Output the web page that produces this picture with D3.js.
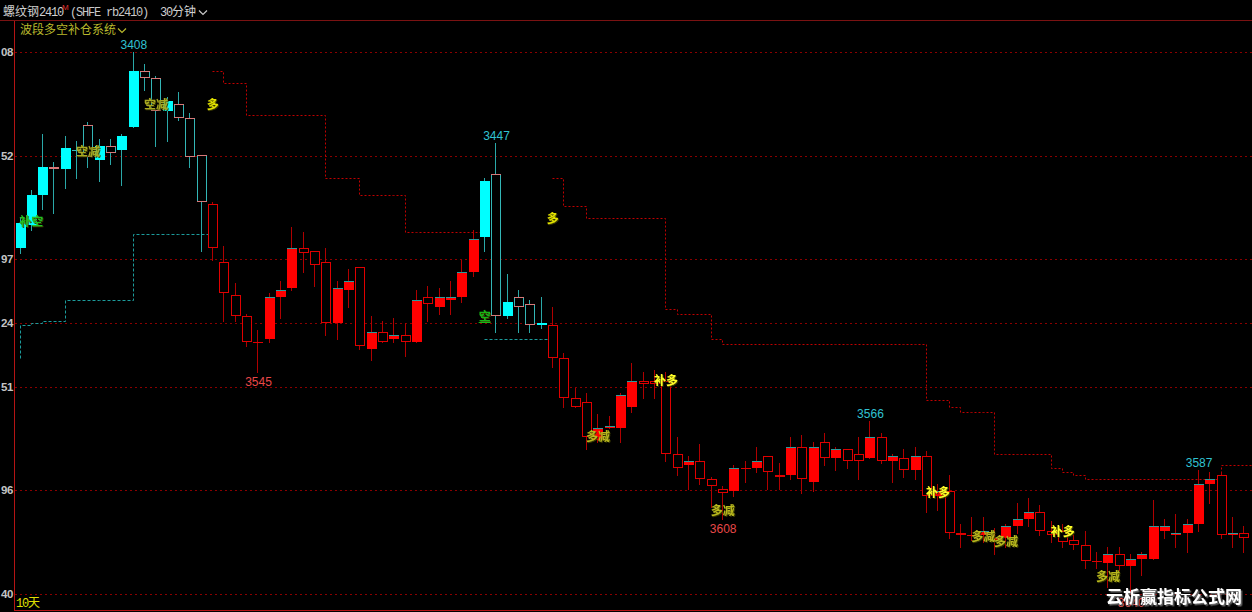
<!DOCTYPE html>
<html><head><meta charset="utf-8">
<script src="https://cdn.jsdelivr.net/npm/d3@7"></script>
<style>
html,body{margin:0;padding:0;background:#000;overflow:hidden;}
svg{display:block;}
text{white-space:pre;}
</style></head>
<body>
<svg id="c" width="1252" height="612"></svg>
<script>
// ---------- data (prices, 30-minute bars of rb2410) ----------
const openP = [
3492,3482,3469,3457,3458,3450,3439,3454,3448,3450,
3440,3416,3419,3433,3430,3436,3452,3473,3498,3512,
3521,3532,3531,3513,3509,3492,3493,3498,3524,3510,
3500,3535,3528,3531,3529,3532,3513,3517,3514,3513,
3502,3487,3460,3521,3513,3516,3525,3525,3539,3556,
3558,3574,3569,3569,3560,3549,3549,3549,3580,3585,
3583,3591,3595,3596,3586,3586,3581,3589,3589,3577,
3592,3575,3582,3578,3580,3582,3573,3583,3582,3587,
3581,3598,3596,3614,3615,3615,3616,3616,3611,3608,
3605,3613,3613,3617,3619,3626,3627,3623,3628,3625,
3625,3613,3615,3614,3610,3593,3589,3615,3614];
const closeP = [
3481,3469,3457,3458,3449,3450,3453,3448,3451,3444,
3416,3419,3433,3429,3436,3453,3472,3492,3511,3521,
3532,3532,3513,3510,3492,3494,3499,3524,3509,3506,
3534,3528,3532,3529,3532,3514,3516,3513,3513,3502,
3488,3463,3521,3515,3517,3525,3524,3539,3556,3560,
3573,3569,3568,3555,3549,3550,3550,3580,3586,3583,
3591,3594,3597,3586,3586,3583,3588,3590,3577,3591,
3577,3582,3578,3583,3583,3573,3583,3581,3587,3581,
3598,3596,3614,3615,3615,3613,3617,3611,3608,3605,
3613,3615,3618,3619,3626,3626,3623,3628,3625,3623,
3611,3611,3614,3610,3593,3591,3615,3614,3616];
const highP = [
3494,3484,3475,3477,3466,3462,3457,3463,3456,3465,
3440,3424,3448,3446,3437,3457,3493,3497,3523,3523,
3534,3545,3532,3522,3510,3502,3508,3529,3531,3517,
3535,3540,3532,3532,3538,3532,3523,3520,3520,3515,
3504,3493,3528,3522,3528,3528,3526,3543,3560,3560,
3578,3575,3569,3575,3562,3556,3556,3583,3589,3595,
3593,3603,3608,3598,3592,3588,3595,3595,3591,3597,
3596,3585,3587,3586,3591,3582,3584,3592,3590,3591,
3605,3604,3616,3620,3617,3618,3623,3620,3614,3611,
3615,3618,3620,3621,3629,3629,3637,3630,3640,3632,
3625,3616,3620,3622,3613,3601,3616,3620,3622];
const lowP = [
3479,3467,3443,3455,3444,3446,3438,3445,3445,3443,
3408,3413,3418,3427,3425,3434,3452,3472,3491,3507,
3520,3527,3511,3506,3483,3485,3493,3492,3506,3501,
3500,3521,3523,3522,3524,3510,3508,3509,3506,3497,
3484,3462,3447,3503,3510,3514,3513,3517,3537,3552,
3554,3563,3564,3554,3541,3545,3544,3545,3573,3581,
3576,3590,3594,3585,3583,3577,3581,3584,3573,3572,
3575,3571,3577,3578,3573,3566,3571,3580,3578,3577,
3579,3593,3589,3610,3607,3607,3612,3610,3601,3599,
3602,3609,3610,3615,3613,3622,3620,3620,3623,3622,
3600,3608,3606,3608,3587,3588,3588,3607,3611];

// short-side stop (cyan dotted) – bars where the system is short
const shortStop = [
3525,3524,3523,3523,3514,3514,3514,3514,3514,3514,
3486,3486,3486,3486,3486,3486,3486,null,null,null,
null,null,null,null,null,null,null,null,null,null,
null,null,null,null,null,null,null,null,null,null,
null,3531,3531,3531,3531,3531,3531,null,null,null,
null,null,null,null,null,null,null,null,null,null,
null,null,null,null,null,null,null,null,null,null,
null,null,null,null,null,null,null,null,null,null,
null,null,null,null,null,null,null,null,null,null,
null,null,null,null,null,null,null,null,null,null,
null,null,null,null,null,null,null,null,null];
const shortStopPrev = 3539;
// long-side stop (red dotted) – bars where the system is long
const longStop = [
null,null,null,null,null,null,null,null,null,null,
null,null,null,null,null,null,null,3416,3421,3421,
3435,3435,3435,3435,3435,3435,3435,3462,3462,3462,
3469,3469,3469,3469,3485,3485,3485,3485,3485,3485,
3485,null,null,null,null,null,null,3462,3474,3474,
3479,3479,3479,3479,3479,3479,3479,3518,3520,3520,
3520,3531,3533,3533,3533,3533,3533,3533,3533,3533,
3533,3533,3533,3533,3533,3533,3533,3533,3533,3533,
3557,3557,3560,3562,3562,3562,3580,3580,3580,3580,
3580,3586,3588,3589,3591,3591,3591,3591,3591,3591,
3591,3591,3591,3591,3591,3591,3585,3585,3585];

// axis ticks (the terminal only shows the last two digits in its narrow axis)
const tickVals   = [3408, 3452.4, 3496.6, 3523.9, 3551.3, 3595.5, 3640];
const tickLabels = ["08","52","97","24","51","96","40"];

// signal texts of the indicator
const sigIndex = [1, 6, 12, 17, 41, 47, 51, 57, 62, 81, 85, 87, 92, 96];
const sigText  = ["补空","空减","空减","多","空","多","多减","补多","多减","补多","多减","多减","补多","多减"];
const sigPrice = [3480,3450,3430,3430,3521,3479,3572,3548,3604,3596,3615,3617,3613,3632];

// extreme price labels
const extIndex = [10, 42, 75, 104, 21, 62, 98];
const extKind  = ["low","low","low","low","high","high","high"];

// ---------- drawing ----------
const svg = d3.select('#c');
const defs = svg.append('defs');
const f1 = defs.append('filter').attr('id','sh').attr('x','-20%').attr('y','-20%').attr('width','150%').attr('height','150%');
f1.append('feDropShadow').attr('dx',1).attr('dy',1).attr('stdDeviation',0.4).attr('flood-color','#3a3a00').attr('flood-opacity',0.9);
const f2 = defs.append('filter').attr('id','wm').attr('x','-10%').attr('y','-20%').attr('width','120%').attr('height','150%');
f2.append('feDropShadow').attr('dx',1.5).attr('dy',1.5).attr('stdDeviation',0.3).attr('flood-color','#6a6a6a').attr('flood-opacity',1);

svg.append('rect').attr('width',1252).attr('height',612).attr('fill','#000');

const n = openP.length;
const xc = d3.scaleLinear().domain([0, n-1]).range([20, 20 + (n-1)*11.333]);
const y  = d3.scaleLinear().domain([3408, 3640]).range([52.3, 593.7]);
const px = i => Math.floor(xc(i)) + 0.5;
const ry = v => Math.round(y(v));

// grid
const grid = svg.append('g');
tickVals.forEach(v => {
  grid.append('line').attr('x1',15).attr('x2',1252)
    .attr('y1',ry(v)+0.5).attr('y2',ry(v)+0.5)
    .attr('stroke','#8a0000').attr('stroke-width',1).attr('stroke-dasharray','2,3');
});

// y axis labels
const yAxis = d3.axisLeft(y).tickValues(tickVals).tickFormat((d,i)=>tickLabels[i]).tickSize(0).tickPadding(0);
const ga = svg.append('g').attr('transform','translate(13,0)').call(yAxis);
ga.select('.domain').remove();
ga.selectAll('text').attr('fill','#c4c4c4').attr('font-family','"Liberation Sans", Arial, sans-serif')
  .attr('font-size',11.5).attr('font-weight','bold').attr('letter-spacing',-0.4);

// frame lines
svg.append('line').attr('x1',0).attr('x2',1252).attr('y1',20.5).attr('y2',20.5).attr('stroke','#7a1212');
svg.append('line').attr('x1',14.5).attr('x2',14.5).attr('y1',21).attr('y2',611).attr('stroke','#b41414');
svg.append('line').attr('x1',14).attr('x2',1252).attr('y1',610.5).attr('y2',610.5).attr('stroke','#b41414');

// stop lines
function segments(arr){
  const segs=[]; let cur=null;
  arr.forEach((v,i)=>{ if(v!=null){ if(!cur){cur=[];segs.push(cur);} cur.push(i);} else cur=null; });
  return segs;
}
const stepLine = d3.line().x(d=>d[0]).y(d=>d[1]).curve(d3.curveStepAfter);
function drawStops(arr, color, dash, prev){
  segments(arr).forEach((seg,k)=>{
    const pts = seg.map(i=>[px(i), ry(arr[i])+0.5]);
    const last = seg[seg.length-1];
    pts.push([px(last+1), ry(arr[last])+0.5]);
    if(k===0 && prev!=null && seg[0]===0) pts.unshift([px(0), ry(prev)+0.5]);
    svg.append('path').attr('d', stepLine(pts)).attr('fill','none')
      .attr('stroke',color).attr('stroke-width',1).attr('stroke-dasharray',dash);
  });
}
drawStops(longStop, '#c00000', '2,2', null);
drawStops(shortStop, '#1c9c9c', '3,2', shortStopPrev);

// candles
const C = {
  cyanFill:'#00ffff', cyanWick:'#2aa8a8', cyanSide:'#33b6b6', cyanEdge:'#d87878',
  redFill:'#ff0000', redWick:'#b00000', redLine:'#e00000', redTop:'#2a9c9c'
};
const cg = svg.append('g').attr('shape-rendering','crispEdges');
for(let i=0;i<n;i++){
  const isShort = shortStop[i]!=null;
  const o=openP[i], c=closeP[i], h=highP[i], l=lowP[i];
  const cx = Math.floor(xc(i));
  const wx = cx+0.5;
  const t = Math.min(ry(o),ry(c)), b = Math.max(ry(o),ry(c));
  const yh = ry(h), yl = ry(l);
  const wick = isShort ? C.cyanWick : C.redWick;
  if(c < o){ // falling bar: filled
    cg.append('line').attr('x1',wx).attr('x2',wx).attr('y1',yl).attr('y2',yh+1).attr('stroke',wick);
    cg.append('rect').attr('x',cx-4).attr('y',t).attr('width',10).attr('height',Math.max(1,b-t))
      .attr('fill', isShort?C.cyanFill:C.redFill);
    if(!isShort) cg.append('line').attr('x1',cx-4).attr('x2',cx+6).attr('y1',t+0.5).attr('y2',t+0.5).attr('stroke',C.redTop);
  } else if(c > o){ // rising bar: hollow
    cg.append('line').attr('x1',wx).attr('x2',wx).attr('y1',yl).attr('y2',t).attr('stroke',wick);
    cg.append('line').attr('x1',wx).attr('x2',wx).attr('y1',b).attr('y2',yh+1).attr('stroke',wick);
    cg.append('rect').attr('x',cx-3.5).attr('y',t+0.5).attr('width',9).attr('height',Math.max(1,b-t-1))
      .attr('fill','#000').attr('stroke', isShort?C.cyanSide:C.redLine).attr('stroke-width',1);
    if(isShort){
      cg.append('line').attr('x1',cx-4).attr('x2',cx+6).attr('y1',t+0.5).attr('y2',t+0.5).attr('stroke',C.cyanEdge);
      cg.append('line').attr('x1',cx-4).attr('x2',cx+6).attr('y1',b-0.5).attr('y2',b-0.5).attr('stroke',C.cyanEdge);
    }
  } else { // doji
    cg.append('line').attr('x1',wx).attr('x2',wx).attr('y1',yl).attr('y2',yh+1).attr('stroke',wick);
    cg.append('line').attr('x1',cx-4).attr('x2',cx+6).attr('y1',t+0.5).attr('y2',t+0.5)
      .attr('stroke', isShort?C.cyanSide:C.redLine);
  }
}

// signal texts
const sigColor = {"补空":"#22c022","空":"#18b418","空减":"#a8a820","多":"#e2e200","多减":"#b8b81e","补多":"#ffff28"};
sigIndex.forEach((idx,k)=>{
  const tx = xc(idx), ty = y(sigPrice[k]);
  svg.append('text').attr('x',tx).attr('y',ty).attr('text-anchor','middle').attr('dominant-baseline','central')
    .attr('font-family','"Noto Sans CJK SC"').attr('font-size',12).attr('font-weight','bold')
    .attr('filter','url(#sh)').attr('fill',sigColor[sigText[k]]).text(sigText[k]);
  if(sigText[k]==="空"){
    svg.append('line').attr('x1',tx-6).attr('x2',tx+6).attr('y1',Math.round(ty)+6.5).attr('y2',Math.round(ty)+6.5)
      .attr('stroke',sigColor["空"]);
  }
});

// extreme labels
extIndex.forEach((idx,k)=>{
  const low = extKind[k]==="low";
  const v = low ? lowP[idx] : highP[idx];
  svg.append('text').attr('x',xc(idx)+0.5).attr('y', low ? y(v)-3 : y(v)+13.5)
    .attr('text-anchor','middle').attr('font-family','"Liberation Sans", Arial, sans-serif')
    .attr('font-size',12).attr('fill', low ? '#30c2d2' : '#e84848').text(String(v));
});

// mixed CJK / ASCII text in terminal style
function mixed(sel, str, size){
  const runs=[]; let cur=null;
  for(const ch of str){
    const cjk = /[\u2e80-\u9fff\uff00-\uffef]/.test(ch);
    if(!cur||cur.cjk!==cjk){cur={cjk,t:''};runs.push(cur);}
    cur.t+=ch;
  }
  runs.forEach(r=>{
    const ts = sel.append('tspan').text(r.t);
    if(r.cjk) ts.attr('font-family','"Noto Sans CJK SC"').attr('font-size',size);
    else ts.attr('font-family','"Liberation Mono", monospace').attr('font-size',size).attr('letter-spacing',-size*0.1);
  });
  return sel;
}

// header
mixed(svg.append('text').attr('x',3).attr('y',15.5).attr('fill','#d0d0d0'), '螺纹钢2410', 12);
svg.append('text').attr('x',62).attr('y',10).attr('fill','#e03030').attr('font-family','"Liberation Sans", Arial')
  .attr('font-size',8).text('M');
mixed(svg.append('text').attr('x',70).attr('y',15.5).attr('fill','#c8c8c8'), '(SHFE rb2410)', 12);
mixed(svg.append('text').attr('x',160).attr('y',15.5).attr('fill','#d0d0d0'), '30分钟', 12);
svg.append('path').attr('d','M199,10.5 L203,14.5 L207,10.5').attr('fill','none').attr('stroke','#c8c8c8').attr('stroke-width',1.2);

// indicator title
mixed(svg.append('text').attr('x',20).attr('y',33.5).attr('fill','#b8b82c'), '波段多空补仓系统', 12);
svg.append('path').attr('d','M118,28.5 L122,32.5 L126,28.5').attr('fill','none').attr('stroke','#b8b82c').attr('stroke-width',1.2);

// period label
mixed(svg.append('text').attr('x',16).attr('y',607).attr('fill','#e0e000'), '10天', 12);

// watermark
svg.append('text').attr('x',1106).attr('y',602.5).attr('font-family','"Noto Sans CJK SC"').attr('font-size',17)
  .attr('font-weight','bold').attr('fill','#ffffff').attr('filter','url(#wm)').text('云析赢指标公式网');
</script>
</body></html>
